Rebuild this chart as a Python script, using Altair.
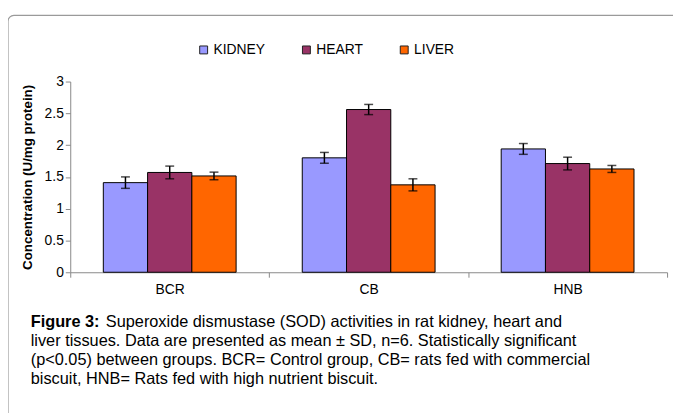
import altair as alt
import pandas as pd

groups = ["BCR", "CB", "HNB"]
tissues = ["KIDNEY", "HEART", "LIVER"]
kidney = [1.41, 1.80, 1.94]
kidney_sd = [0.09, 0.085, 0.085]
heart = [1.57, 2.56, 1.71]
heart_sd = [0.10, 0.08, 0.10]
liver = [1.515, 1.375, 1.625]
liver_sd = [0.06, 0.095, 0.055]
colors = ["#9999FF", "#993366", "#FF6600"]
y_ticks = [0, 0.5, 1, 1.5, 2, 2.5, 3]

caption_bold = "Figure 3:"
caption_lines = [
    "Superoxide dismustase (SOD) activities in rat kidney, heart and",
    "liver tissues. Data are presented as mean \u00b1 SD, n=6. Statistically significant",
    "(p<0.05) between groups. BCR= Control group, CB= rats fed with commercial",
    "biscuit, HNB= Rats fed with high nutrient biscuit.",
]

rows = []
for t, vals, sds in zip(tissues, [kidney, heart, liver], [kidney_sd, heart_sd, liver_sd]):
    for g, v, s in zip(groups, vals, sds):
        rows.append({"group": g, "tissue": t, "value": v, "sd": s})
df = pd.DataFrame(rows)

FONT = "Liberation Sans"
W, H = 604, 193
YTITLE = "Concentration (U/mg protein)"

x_axis = alt.Axis(labelAngle=0, labelFontSize=14, labelFont=FONT, labelColor="black",
                  tickBand="extent", tickSize=5, labelPadding=6,
                  domainColor="#888888", tickColor="#888888")
x_scale = alt.Scale(paddingInner=0, paddingOuter=0)
y_axis = alt.Axis(values=y_ticks, format="~g", grid=False, labelOverlap=False,
                  labelFontSize=14, labelFont=FONT, labelColor="black",
                  tickSize=5, labelPadding=2,
                  domainColor="#888888", tickColor="#888888",
                  titleFont=FONT, titleFontSize=13.5, titleFontWeight="bold",
                  titleColor="black", titleX=-43, titleY=H / 2,
                  titleBaseline="middle", titleAngle=270)
y_scale = alt.Scale(domain=[0, 3])


def xe():
    return alt.X("group:N", sort=groups, title=None, scale=x_scale, axis=x_axis)


def ye(field):
    return alt.Y(field, scale=y_scale, title=YTITLE, axis=y_axis)


xoff = alt.XOffset("tissue:N", sort=tissues,
                   scale=alt.Scale(paddingInner=0, paddingOuter=0.747))

base = alt.Chart(df)

bars = base.mark_bar(stroke="black", strokeWidth=1).encode(
    x=xe(),
    xOffset=xoff,
    y=ye("value:Q"),
    color=alt.Color("tissue:N", sort=tissues,
                    scale=alt.Scale(domain=tissues, range=colors),
                    legend=alt.Legend(orient="none", legendX=128, legendY=-39,
                                      direction="horizontal", title=None,
                                      symbolType="square", symbolSize=64,
                                      symbolStrokeColor="#222222", symbolStrokeWidth=1,
                                      symbolOpacity=1,
                                      labelFont=FONT, labelFontSize=14, labelColor="black",
                                      labelOffset=3, columnPadding=34)),
)

err = base.transform_calculate(lo="datum.value - datum.sd", hi="datum.value + datum.sd")

whisk = err.mark_rule(color="black", strokeWidth=1.5).encode(
    x=xe(), xOffset=xoff, y=ye("lo:Q"), y2="hi:Q")
cap_lo = err.mark_tick(color="black", thickness=1.5, size=9).encode(
    x=xe(), xOffset=xoff, y=ye("lo:Q"))
cap_hi = err.mark_tick(color="black", thickness=1.5, size=9).encode(
    x=xe(), xOffset=xoff, y=ye("hi:Q"))

one = pd.DataFrame({"k": [0]})
frame = alt.Chart(one).mark_rect(fill=None, stroke="#9a9a9a", strokeWidth=1.2,
                                 cornerRadius=6).encode(
    x=alt.value(-63), x2=alt.value(640), y=alt.value(-67), y2=alt.value(360))

CAP_SIZE = 16.5
cap_first = alt.Chart(pd.DataFrame({"t": [caption_bold]})).mark_text(
    font=FONT, fontSize=CAP_SIZE, fontWeight="bold", align="left", baseline="middle",
    color="black").encode(text="t:N", x=alt.value(-40), y=alt.value(243))
cap_rest0 = alt.Chart(pd.DataFrame({"t": [caption_lines[0]]})).mark_text(
    font=FONT, fontSize=CAP_SIZE, align="left", baseline="middle",
    color="black").encode(text="t:N", x=alt.value(36), y=alt.value(243))
cap_others = [
    alt.Chart(pd.DataFrame({"t": [caption_lines[k]]})).mark_text(
        font=FONT, fontSize=CAP_SIZE, align="left", baseline="middle",
        color="black").encode(text="t:N", x=alt.value(-40), y=alt.value(yv))
    for k, yv in zip([1, 2, 3], [262.3, 281.6, 300.9])
]

chart = alt.layer(frame, bars, whisk, cap_lo, cap_hi, cap_first, cap_rest0, *cap_others).properties(
    width=W, height=H,
    autosize=alt.AutoSizeParams(type="none"),
    padding={"left": 63, "top": 72, "right": 6, "bottom": 140},
    background="white",
).configure_view(stroke=None)

chart.save("out.html", embed_options={"renderer": "svg", "actions": False})
